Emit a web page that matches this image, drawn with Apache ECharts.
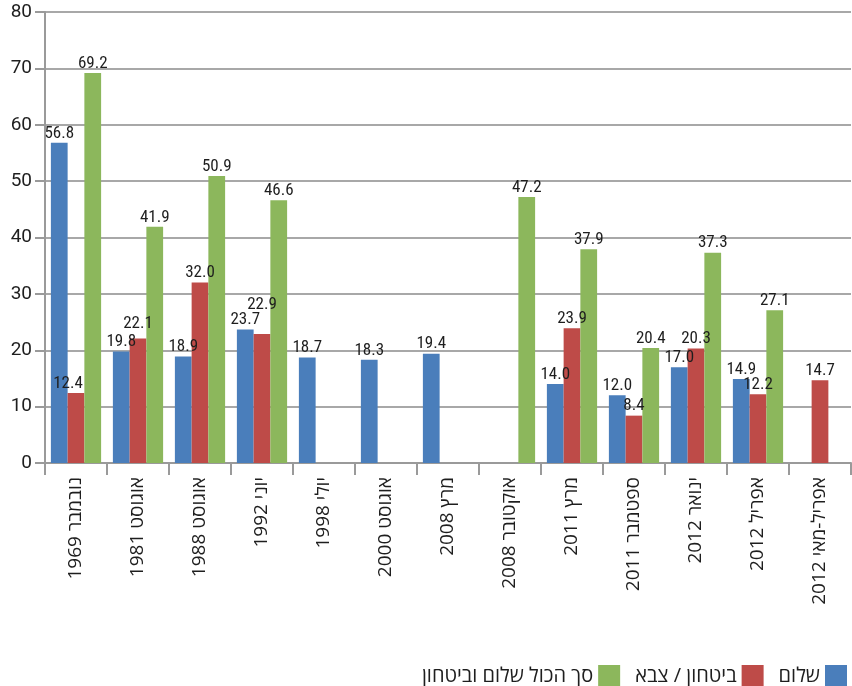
<!DOCTYPE html>
<html>
<head>
<meta charset="utf-8">
<script src="https://cdn.jsdelivr.net/npm/echarts@6/dist/echarts.min.js"></script>
<style>html,body{margin:0;padding:0;background:#fff}#c{width:852px;height:686px}</style>
</head>
<body>
<div id="c"></div>
<script>
const categories = ['נובמבר 1969','אוגוסט 1981','אוגוסט 1988','יוני 1992','יולי 1998','אוגוסט 2000','מרץ 2008','אוקטובר 2008','מרץ 2011','ספטמבר 2011','ינואר 2012','אפריל 2012','אפריל-מאי 2012'];
const peace = [56.8, 19.8, 18.9, 23.7, 18.7, 18.3, 19.4, null, 14.0, 12.0, 17.0, 14.9, null];
const security = [12.4, 22.1, 32.0, 22.9, null, null, null, null, 23.9, 8.4, 20.3, 12.2, 14.7];
const total = [69.2, 41.9, 50.9, 46.6, null, null, null, 47.2, 37.9, 20.4, 37.3, 27.1, null];
const seriesNames = ['שלום', 'ביטחון / צבא', 'סך הכול שלום וביטחון'];
const yTicks = {min: 0, max: 80, interval: 10};

// label nudges (style only) for the red series, by category index
const securityLabelOffsets = {0: [-8, 0], 1: [0, -5], 3: [0, -20]};

const HEB = '"Open Sans", "DejaVu Sans", sans-serif';
const NUM = '"Roboto Condensed", "Open Sans", sans-serif';
const chart = echarts.init(document.getElementById('c'));
const lbl = {show: true, position: 'top', distance: 1, fontSize: 17, color: '#1e1e1e', fontFamily: NUM,
  formatter: p => p.value == null ? '' : Number(p.value).toFixed(1)};
const securityData = security.map((v, i) => securityLabelOffsets[i]
  ? {value: v, label: {offset: securityLabelOffsets[i]}} : v);
chart.setOption({
  animation: false,
  grid: {left: 45, right: 1, top: 12, bottom: 223, containLabel: false},
  legend: {
    data: [seriesNames[2], seriesNames[1], seriesNames[0]],
    right: 0, top: 660, align: 'right', itemWidth: 22, itemHeight: 22, itemGap: 15,
    icon: 'rect', textStyle: {fontSize: 20, color: '#1e1e1e', fontFamily: HEB, padding: [0, 0, 0, 0]}
  },
  xAxis: {
    type: 'category', data: categories,
    axisLine: {lineStyle: {color: '#9a9a9a', width: 2}},
    axisTick: {show: true, length: 12, lineStyle: {color: '#9a9a9a', width: 2}},
    axisLabel: {rotate: 90, fontSize: 19, color: '#1e1e1e', fontFamily: HEB, margin: 14, interval: 0}
  },
  yAxis: {
    type: 'value', min: yTicks.min, max: yTicks.max, interval: yTicks.interval,
    axisLine: {show: true, lineStyle: {color: '#9a9a9a', width: 2}},
    axisTick: {show: true, length: 10, lineStyle: {color: '#9a9a9a', width: 2}},
    axisLabel: {fontSize: 19, color: '#1e1e1e', fontFamily: '"Roboto", sans-serif', margin: 13},
    splitLine: {lineStyle: {color: '#a8a8a8', width: 2}}
  },
  series: [
    {name: seriesNames[0], type: 'bar', data: peace, itemStyle: {color: '#4A7EBB'}, barGap: '0%', barCategoryGap: '19%', label: lbl},
    {name: seriesNames[1], type: 'bar', data: securityData, itemStyle: {color: '#BE4B48'}, label: lbl},
    {name: seriesNames[2], type: 'bar', data: total, itemStyle: {color: '#8CB75C'}, label: lbl}
  ]
});
</script>
</body>
</html>
